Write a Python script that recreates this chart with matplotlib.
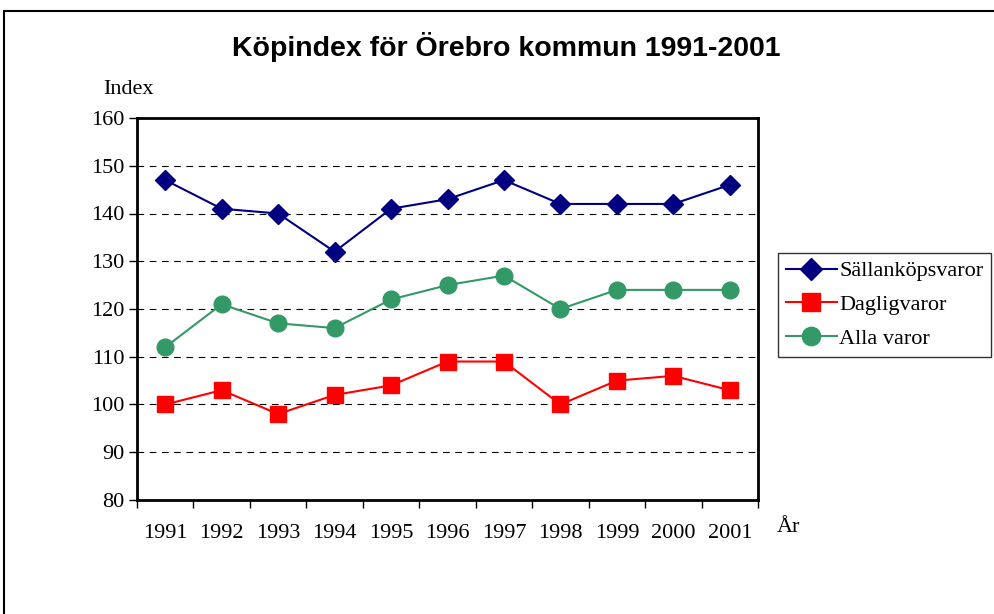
import matplotlib.pyplot as plt
import matplotlib.patches as mpatches
import numpy as np

years = ['1991', '1992', '1993', '1994', '1995', '1996', '1997', '1998', '1999', '2000', '2001']
sallankop = [147, 141, 140, 132, 141, 143, 147, 142, 142, 142, 146]
dagligvaror = [100, 103, 98, 102, 104, 109, 109, 100, 105, 106, 103]
alla_varor = [112, 121, 117, 116, 122, 125, 127, 120, 124, 124, 124]

W, H = 994, 614
fig = plt.figure(figsize=(W / 100, H / 100), dpi=100)
serif = 'Liberation Serif'

# outer frame of the chart object
fig.patches.append(mpatches.Rectangle((4 / W, -0.1), 1.2, 1 - 11 / H + 0.1,
                                      transform=fig.transFigure, fill=False,
                                      edgecolor='black', linewidth=1.5))

ax = fig.add_axes([137 / W, 1 - 500 / H, 621 / W, 382 / H])
x = np.arange(len(years))

ax.plot(x, sallankop, color='#000080', marker='D', markersize=10, linewidth=1.5, label='Sällanköpsvaror')
ax.plot(x, dagligvaror, color='#FF0000', marker='s', markersize=12, linewidth=1.5, label='Dagligvaror')
ax.plot(x, alla_varor, color='#339966', marker='o', markersize=12, linewidth=1.5, label='Alla varor')

ax.set_xlim(-0.5, len(years) - 0.5)
ax.set_ylim(80, 160)
ax.set_yticks(range(80, 161, 10))
ax.set_xticks(np.arange(-0.5, len(years), 1.0))
ax.set_xticklabels([])
ax.set_xticks(x, minor=True)
ax.set_xticklabels(years, minor=True)
ax.tick_params(axis='x', which='minor', length=0, pad=17)
ax.tick_params(axis='x', which='major', length=6, width=1, direction='out')
ax.tick_params(axis='y', length=6, width=1, direction='out', pad=3)
for lab in ax.get_xticklabels(minor=True) + ax.get_yticklabels():
    lab.set_fontfamily(serif)
    lab.set_fontsize(16)

for yv in range(90, 160, 10):
    ax.axhline(yv, color='black', linestyle=(0, (6, 5)), linewidth=0.8, zorder=0)

for s in ax.spines.values():
    s.set_linewidth(2)

fig.text(506 / W, 1 - 47 / H, 'Köpindex för Örebro kommun 1991-2001', ha='center', va='center',
         fontsize=20.5, fontweight='bold', family='Liberation Sans')
fig.text(103 / W, 1 - 90 / H, 'Index', ha='left', va='center', fontsize=16, family=serif)
fig.text(777 / W, 1 - 527 / H, 'År', ha='left', va='center', fontsize=16, family=serif)

leg = ax.legend(loc='upper left', bbox_to_anchor=(778 / W, 1 - 253 / H), bbox_transform=fig.transFigure,
                prop={'family': serif, 'size': 16}, frameon=True, fancybox=False,
                borderpad=0.35, labelspacing=0.6, handlelength=2.3, handletextpad=0.1,
                borderaxespad=0, markerscale=1.1)
leg.get_frame().set_edgecolor('black')
leg.get_frame().set_linewidth(1)

fig.savefig('out.png', dpi=100)
